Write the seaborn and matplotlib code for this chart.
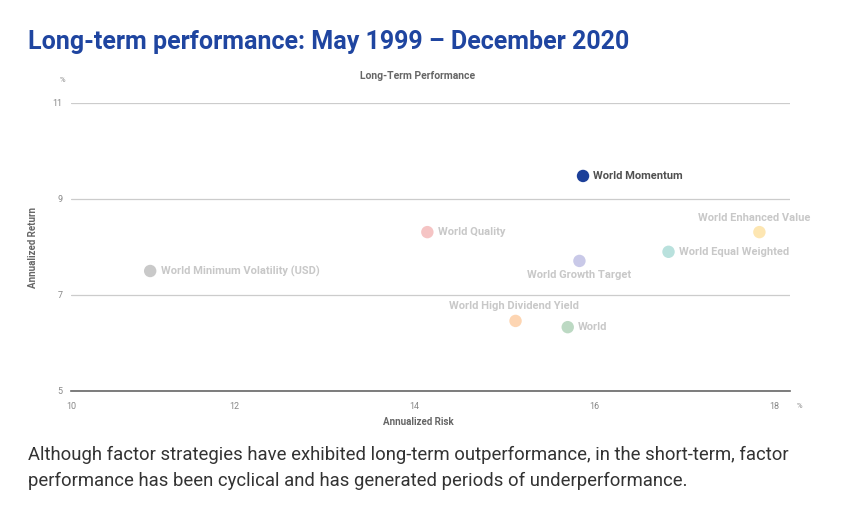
import matplotlib
matplotlib.use("Agg")
import matplotlib.pyplot as plt
import seaborn as sns
import pandas as pd

names = ["World Momentum", "World Quality", "World Minimum Volatility (USD)",
         "World Growth Target", "World Equal Weighted", "World Enhanced Value",
         "World High Dividend Yield", "World"]
risk = [15.87, 14.14, 11.06, 15.83, 16.82, 17.83, 15.12, 15.70]
ret = [9.48, 8.31, 7.50, 7.71, 7.90, 8.31, 6.46, 6.33]
colors = ["#1c3f99", "#f5c4c4", "#c9c9c9", "#c9c9e8", "#b9e1dd", "#fde6b2", "#fdd5b2", "#bcd9c3"]
label_pos = ["right", "right", "right", "below", "right", "above", "above", "right"]

xticks = [10.18, 12, 14, 16, 18]
xticklabels = ["10", "12", "14", "16", "18"]
yticks = [5, 7, 9, 11]

df = pd.DataFrame({"name": names, "risk": risk, "ret": ret})

sns.set_theme(style="white")
plt.rcParams["font.family"] = ["Roboto", "DejaVu Sans"]

W, H = 844, 507
fig = plt.figure(figsize=(W / 100, H / 100), dpi=100)
ax = fig.add_axes([71 / W, (H - 391) / H, (790 - 71) / W, (391 - 103) / H])

sns.scatterplot(data=df, x="risk", y="ret", hue="name", palette=dict(zip(names, colors)),
                s=80, edgecolor="none", legend=False, ax=ax, zorder=3)

ax.set_xlim(10.18, 18.17)
ax.set_ylim(5, 11)
ax.set_yticks(yticks)
ax.set_yticklabels([str(v) for v in yticks])
ax.set_xticks(xticks)
ax.set_xticklabels(xticklabels)
ax.tick_params(axis="both", length=0, labelsize=6.5, labelcolor="#888888")
ax.tick_params(axis="y", pad=6)
ax.tick_params(axis="x", pad=8)
for lab in ax.get_xticklabels():
    lab.set_ha("center")
ax.grid(axis="y", color="#cccccc", linewidth=0.9)
ax.grid(axis="x", visible=False)
for s in ["top", "right", "left"]:
    ax.spines[s].set_visible(False)
ax.spines["bottom"].set_color("#666666")
ax.spines["bottom"].set_linewidth(1.2)
ax.spines["bottom"].set_zorder(2)

for n, x, y, pos in zip(names, risk, ret, label_pos):
    col = "#505050" if n == "World Momentum" else "#c8c8c8"
    if pos == "right":
        off, ha, va = (7.5, 0), "left", "center"
    elif pos == "below":
        off, ha, va = (0, -10), "center", "center"
    else:
        off, ha, va = (-4, 10), "center", "center"
    if n == "World High Dividend Yield":
        off = (-1, 11)
    ax.annotate(n, (x, y), xytext=off, textcoords="offset points", ha=ha, va=va,
                fontsize=8, fontweight="bold", color=col)

ax.set_xlabel("")
ax.set_ylabel("")
fig.text(418 / W, 1 - 422 / H, "Annualized Risk", ha="center", va="center",
         fontsize=7, fontweight="bold", color="#666666")
fig.text(33 / W, 1 - 247 / H, "Annualized Return", ha="center", va="center", rotation=90,
         fontsize=7, fontweight="bold", color="#666666")
fig.text(62 / W, 1 - 80 / H, "%", ha="center", va="center", fontsize=5.5, color="#888888")
fig.text(799 / W, 1 - 406 / H, "%", ha="center", va="center", fontsize=5.5, color="#888888")
fig.text(418 / W, 1 - 76 / H, "Long-Term Performance", ha="center", va="center",
         fontsize=7.5, fontweight="bold", color="#666666")

fig.text(28 / W, 1 - 42 / H, "Long-term performance: May 1999 \u2013 December 2020",
         ha="left", va="center", fontsize=18, fontweight="bold", color="#1f45a0")
fig.text(28 / W, 1 - 455 / H,
         "Although factor strategies have exhibited long-term outperformance, in the short-term, factor",
         ha="left", va="center", fontsize=13.3, color="#333333")
fig.text(28 / W, 1 - 481 / H,
         "performance has been cyclical and has generated periods of underperformance.",
         ha="left", va="center", fontsize=13.3, color="#333333")

fig.savefig("out.png", dpi=100, facecolor="white")
